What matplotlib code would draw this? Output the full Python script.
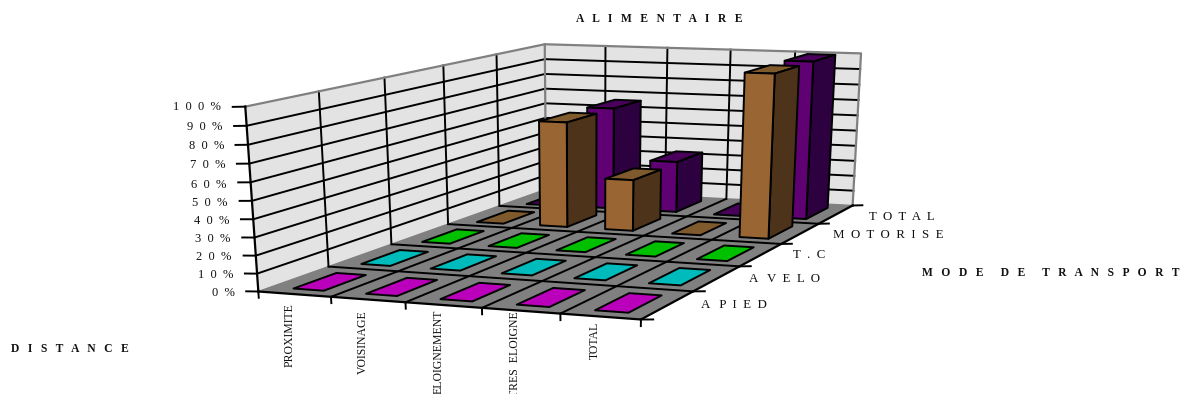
import numpy as np
import matplotlib
matplotlib.use('Agg')
import matplotlib.pyplot as plt
from mpl_toolkits.mplot3d.art3d import Poly3DCollection

# Data
categories = ['PROXIMITE', 'VOISINAGE', 'ELOIGNEMENT', 'TRES  ELOIGNE', 'TOTAL']
series = ['A   P  I  E  D', 'A   V  E  L  O', 'T  .  C', 'M  O  T  O  R  I  S  E', 'T  O  T  A  L']
a_pied = [0, 0, 0, 0, 0]
a_velo = [0, 0, 0, 0, 0]
t_c = [0, 0, 0, 0, 0]
motorise = [0, 66, 32, 0, 100]
total = [0, 66, 33, 0, 100]
values = [a_pied, a_velo, t_c, motorise, total]
pct_labels = ['0  %', '1  0  %', '2  0  %', '3  0  %', '4  0  %', '5  0  %',
              '6  0  %', '7  0  %', '8  0  %', '9  0  %', '1  0  0  %']

# Colours for each series: front, side, top
colors = [('#bb00bb', '#5d005d', '#bb00bb'),
          ('#00bbbb', '#005d5d', '#00bbbb'),
          ('#00c000', '#006000', '#00c000'),
          ('#996633', '#4d331a', '#7f5a2d'),
          ('#5f0073', '#2d0040', '#48005a')]

W, H = 1181, 394
font = 'Liberation Serif'

# Camera: matches box corners (cat, series, percent) to picture pixels
corners = [((0, 0, 0), (259, 294)), ((5, 0, 0), (640.5, 318)),
           ((5, 5, 0), (853, 207)), ((0, 5, 0), (545.5, 187)),
           ((0, 0, 100), (245, 105.5)), ((0, 5, 100), (545, 45.5)),
           ((5, 5, 100), (861, 53))]
A, b = [], []
for (x, y, z), (u, v) in corners:
    A.append([x, y, z, 1, 0, 0, 0, 0, -u * x, -u * y, -u * z])
    A.append([0, 0, 0, 0, x, y, z, 1, -v * x, -v * y, -v * z])
    b += [u, v]
p = np.linalg.lstsq(np.array(A, float), np.array(b, float), rcond=None)[0]
M = np.array([[p[0], p[1], p[2], p[3]],
              [p[4], p[5], p[6], p[7]],
              [0, 1, 0, 0],
              [p[8], p[9], p[10], 1]])

fig = plt.figure(figsize=(W / 100, H / 100), dpi=100)
ax = fig.add_axes([0, 0, 1, W / H], projection='3d', computed_zorder=False)
ax.set_proj_type('ortho')  # no clipping of lines in pixel coordinates
ax.get_proj = lambda: M
ax.viewLim.intervalx = (0, W)
ax.viewLim.intervaly = (H, H - W)
ax.set_axis_off()


def poly(faces, fc, ec='black', lw=1.4, zorder=1):
    c = Poly3DCollection(faces, facecolors=fc, edgecolors=ec, linewidths=lw,
                         zorder=zorder)
    ax.add_collection3d(c, autolim=False)


def line(xs, ys, zs, color='black', lw=1.4, zorder=2):
    ax.plot(xs, ys, zs, color=color, lw=lw, zorder=zorder, scalex=False, scaley=False)


# Walls and floor
poly([[(0, 0, 0), (0, 5, 0), (0, 5, 100), (0, 0, 100)]], '#e3e3e3', 'none', 0, 1)
poly([[(0, 5, 0), (5, 5, 0), (5, 5, 100), (0, 5, 100)]], '#e3e3e3', 'none', 0, 1)
poly([[(0, 0, 0), (5, 0, 0), (5, 5, 0), (0, 5, 0)]], '#808080', 'none', 0, 1.5)

# Grid on walls
for z in range(10, 100, 10):
    line([0, 0, 5], [0, 5, 5], [z, z, z], zorder=2)
for i in range(1, 5):
    line([i, i], [5, 5], [0, 100], zorder=2)
    line([0, 0], [i, i], [0, 100], zorder=2)

# Wall outlines
line([0, 0, 5, 5], [0, 5, 5, 5], [100, 100, 100, 0], color='#808080', lw=1.6, zorder=3)
line([0, 0], [5, 5], [0, 100], color='#808080', lw=1.6, zorder=3)
line([0, 0, 5], [0, 5, 5], [0, 0, 0], color='#808080', lw=1.0, zorder=3)

# Grid on floor
for i in range(1, 5):
    line([i, i], [0, 5], [0, 0], zorder=3)
    line([0, 5], [i, i], [0, 0], zorder=3)

# Axis lines and ticks
line([0, 0], [0, 0], [0, 100], zorder=4, lw=1.6)
line([0, 5, 5], [0, 0, 5], [0, 0, 0], zorder=4, lw=1.6)
for z in range(0, 101, 10):
    line([0, -0.17], [0, 0], [z, z - 0.4], zorder=4)
for i in range(6):
    line([i, i], [0, 0], [0, -3.5], zorder=4)
    line([5, 5.15], [i, i], [0, 0.5], zorder=4)

# Bars, back row first
bar_w = 0.42
bar_d = 0.62
order = 5
for j in range(4, -1, -1):
    for i in range(5):
        v = values[j][i]
        x0 = i + (1 - bar_w) / 2
        x1 = x0 + bar_w
        y0 = j + (1 - bar_d) / 2
        y1 = y0 + bar_d
        front, side, top = colors[j]
        if v > 0:
            poly([[(x0, y0, 0), (x1, y0, 0), (x1, y0, v), (x0, y0, v)],
                  [(x1, y0, 0), (x1, y1, 0), (x1, y1, v), (x1, y0, v)],
                  [(x0, y0, v), (x1, y0, v), (x1, y1, v), (x0, y1, v)]],
                 [front, side, top], zorder=order)
        else:
            poly([[(x0, y0, 0), (x1, y0, 0), (x1, y1, 0), (x0, y1, 0)]], top, zorder=order)
        order += 1


# Labels
def label(px, py, s, **kw):
    fig.text(px / W, 1 - py / H, s, family=font, color='#111111', **kw)


label(659, 18.5, 'A   L   I   M   E   N   T   A   I   R   E', fontsize=8.3, fontweight='bold', ha='center', va='center')
label(70, 349.5, 'D   I   S   T   A   N   C   E', fontsize=8.3, fontweight='bold', ha='center', va='center')
label(1051, 273, 'M   O   D   E      D   E      T   R   A   N   S   P   O   R   T', fontsize=8.3, fontweight='bold', ha='center', va='center')

pct_x = [235, 233, 231, 230, 229, 227, 226, 225, 224, 222, 221]
pct_y = [293.5, 275.5, 257.5, 239.5, 221.5, 203.5, 184.5, 165.5, 146.5, 127.5, 107.5]
for s, px, py in zip(pct_labels, pct_x, pct_y):
    label(px, py, s, fontsize=9, ha='right', va='center')

cat_x = [289.5, 362.5, 438.5, 514.5, 594.5]
cat_y = [303, 310, 310, 311, 322]
for s, px, py in zip(categories, cat_x, cat_y):
    label(px, py, s, fontsize=8.5, rotation=90, ha='center', va='top')

ser_x = [701, 749, 793, 833, 869]
ser_y = [305.5, 279.5, 255.5, 235.5, 216.5]
for s, px, py in zip(series, ser_x, ser_y):
    label(px, py, s, fontsize=9.3, ha='left', va='center')

plt.savefig('out.png', dpi=100)
